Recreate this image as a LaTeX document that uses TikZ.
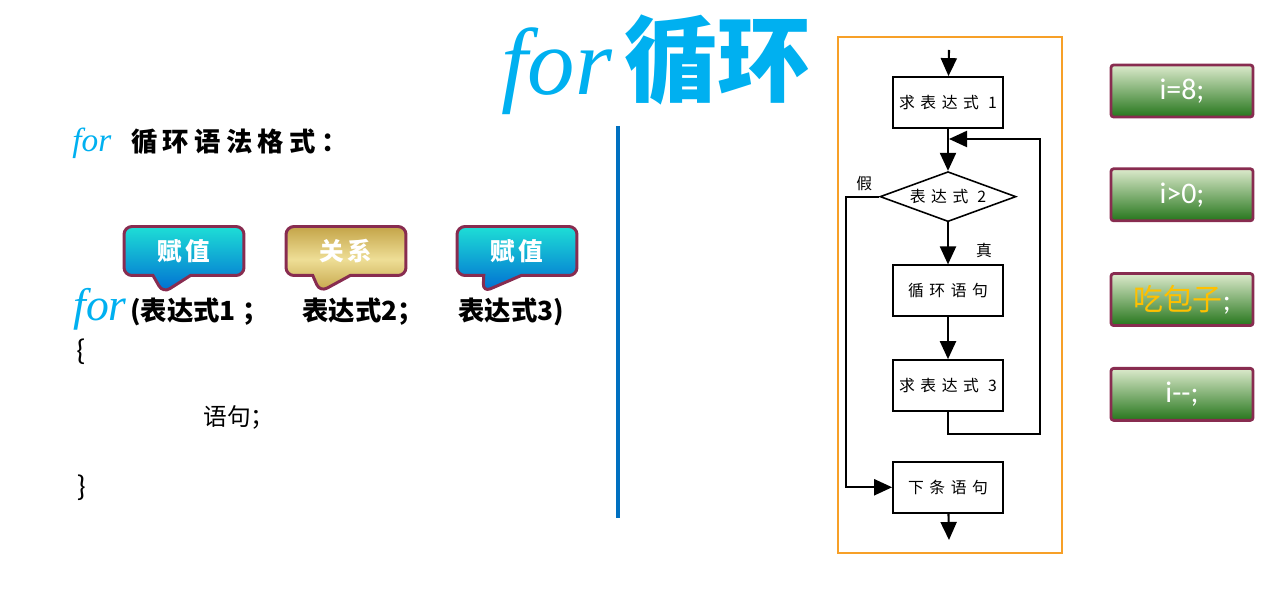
\documentclass[tikz,border=0pt]{standalone}
\usepackage{fontspec}
\usepackage{xcolor}
\usetikzlibrary{arrows.meta,positioning,shapes.geometric,shapes.callouts}
\newfontfamily\cjk{Noto Sans CJK SC}
\newfontfamily\cjkflow[LetterSpace=35]{Noto Sans CJK SC}
\newfontfamily\cjktip[LetterSpace=15]{Noto Sans CJK SC}
\newfontfamily\cjkhead[LetterSpace=20]{Noto Sans CJK SC}
\newfontfamily\latin{Carlito}
\newfontfamily\forfont{Liberation Serif}
\definecolor{forblue}{RGB}{0,176,240}
\definecolor{rulecol}{RGB}{0,112,192}
\definecolor{framecol}{RGB}{247,160,40}
\definecolor{rim}{RGB}{136,44,80}
\definecolor{tealtop}{RGB}{30,222,214}
\definecolor{bluebot}{RGB}{0,108,210}
\definecolor{golddark}{RGB}{196,164,72}
\definecolor{goldlight}{RGB}{238,222,150}
\definecolor{leaflight}{RGB}{220,234,204}
\definecolor{leafdark}{RGB}{38,118,28}
\definecolor{bunyellow}{RGB}{255,192,0}
\begin{document}
\begin{tikzpicture}[x=0.02cm,y=-0.02cm,>=Latex, every node/.style={inner sep=0pt}]
\tikzstyle{fbox}=[draw,line width=1pt,minimum width=2.2cm,minimum height=1.02cm,font=\cjkflow\fontsize{9}{10}\selectfont]
\tikzstyle{arr}=[-{Triangle[width=0.32cm,length=0.36cm]},line width=1.2pt]
\tikzstyle{tip}=[rectangle callout,draw=rim,line width=1.7pt,rounded corners=0.16cm,minimum width=2.4cm,minimum height=0.98cm,callout pointer width=0.75cm,font=\cjktip\bfseries\fontsize{14}{16}\selectfont,text=white]
\tikzstyle{gbox}=[draw=rim,line width=1.6pt,rounded corners=1.5pt,minimum width=2.84cm,minimum height=1.04cm,top color=leaflight,bottom color=leafdark,text=white,font=\latin\fontsize{17}{20}\selectfont]
\useasboundingbox (0,0) rectangle (1269,590);
\node[text=forblue] (title) at (656,65) {\forfont\itshape\fontsize{54}{60}\selectfont for\hspace{0.25cm}\cjk\bfseries\fontsize{53}{60}\selectfont 循环};
\node[anchor=west] (syntax) at (72,143) {{\color{forblue}\forfont\itshape\fontsize{19}{22}\selectfont for}\hspace{0.4cm}{\cjkhead\bfseries\fontsize{15}{18}\selectfont 循环语法格式：}};
\node[anchor=base west,text=forblue] (forkw) at (73,321) {\forfont\itshape\fontsize{26}{28}\selectfont for};
\node[anchor=base west] (expr1) at (130,321) {\cjk\bfseries\fontsize{15}{18}\selectfont (表达式1 ；};
\node[anchor=base west] (expr2) at (302,321) {\cjk\bfseries\fontsize{15}{18}\selectfont 表达式2；};
\node[anchor=base west] (expr3) at (458,321) {\cjk\bfseries\fontsize{15}{18}\selectfont 表达式3)};
\node[tip,top color=tealtop,bottom color=bluebot,callout absolute pointer={(163,293)}] (assign1) at (184,251) {赋值};
\node[tip,top color=golddark,bottom color=golddark,middle color=goldlight,callout absolute pointer={(320,292)}] (relate) at (346,251) {关系};
\node[tip,top color=tealtop,bottom color=bluebot,callout absolute pointer={(483,292)}] (assign2) at (517,251) {赋值};
\node[anchor=west] (lbrace) at (76,352) {\latin\fontsize{17}{20}\selectfont\{};
\node (stmt) at (239,417) {\cjk\fontsize{13.5}{16}\selectfont 语句；};
\node[anchor=west] (rbrace) at (76,488) {\latin\fontsize{17}{20}\selectfont\}};
\draw[rulecol,line width=2.2pt] (618,126) -- (618,518);
\draw[framecol,line width=1.2pt] (838,37) rectangle (1062,553);
\node[fbox] (calc1) at (948,102.5) {求表达式 1};
\node[diamond,draw,line width=0.9pt,aspect=2.72,minimum width=2.72cm,minimum height=1cm,font=\cjkflow\fontsize{9}{10}\selectfont,below=0.84cm of calc1] (test) {表达式 2};
\node[fbox,below=0.84cm of test] (body) {循环语句};
\node[fbox,below=0.84cm of body] (calc3) {求表达式 3};
\node[fbox,below=0.98cm of calc3] (next) {下条语句};
\coordinate (entry) at (949,50);
\coordinate (exit) at (949,540);
\coordinate (join) at (949,139);
\draw[arr] (entry) -- (calc1);
\draw[arr] (calc1) -- (test);
\draw[arr] (test) -- node[pos=0.66,xshift=0.72cm,font=\cjk\fontsize{9}{10}\selectfont]{真} (body);
\draw[arr] (body) -- (calc3);
\draw[arr] (calc3.south) -- ++(0,22) -- ++(92,0) |- (join);
\draw[arr] (test.west) -- ++(-33,0) node[at end,anchor=south west,xshift=0.18cm,yshift=0.1cm,font=\cjk\fontsize{9}{10}\selectfont]{假} |- (next.west);
\draw[arr] (next) -- (exit);
\node[gbox] (init) at (1182,91) {i=8;};
\node[gbox,below=0.98cm of init] (cond) {i>0;};
\node[gbox,below=1.0cm of cond] (eat) {{\cjk\color{bunyellow}吃包子};};
\node[gbox,below=0.8cm of eat] (update) {i-\kern0pt-;};
\end{tikzpicture}
\end{document}
